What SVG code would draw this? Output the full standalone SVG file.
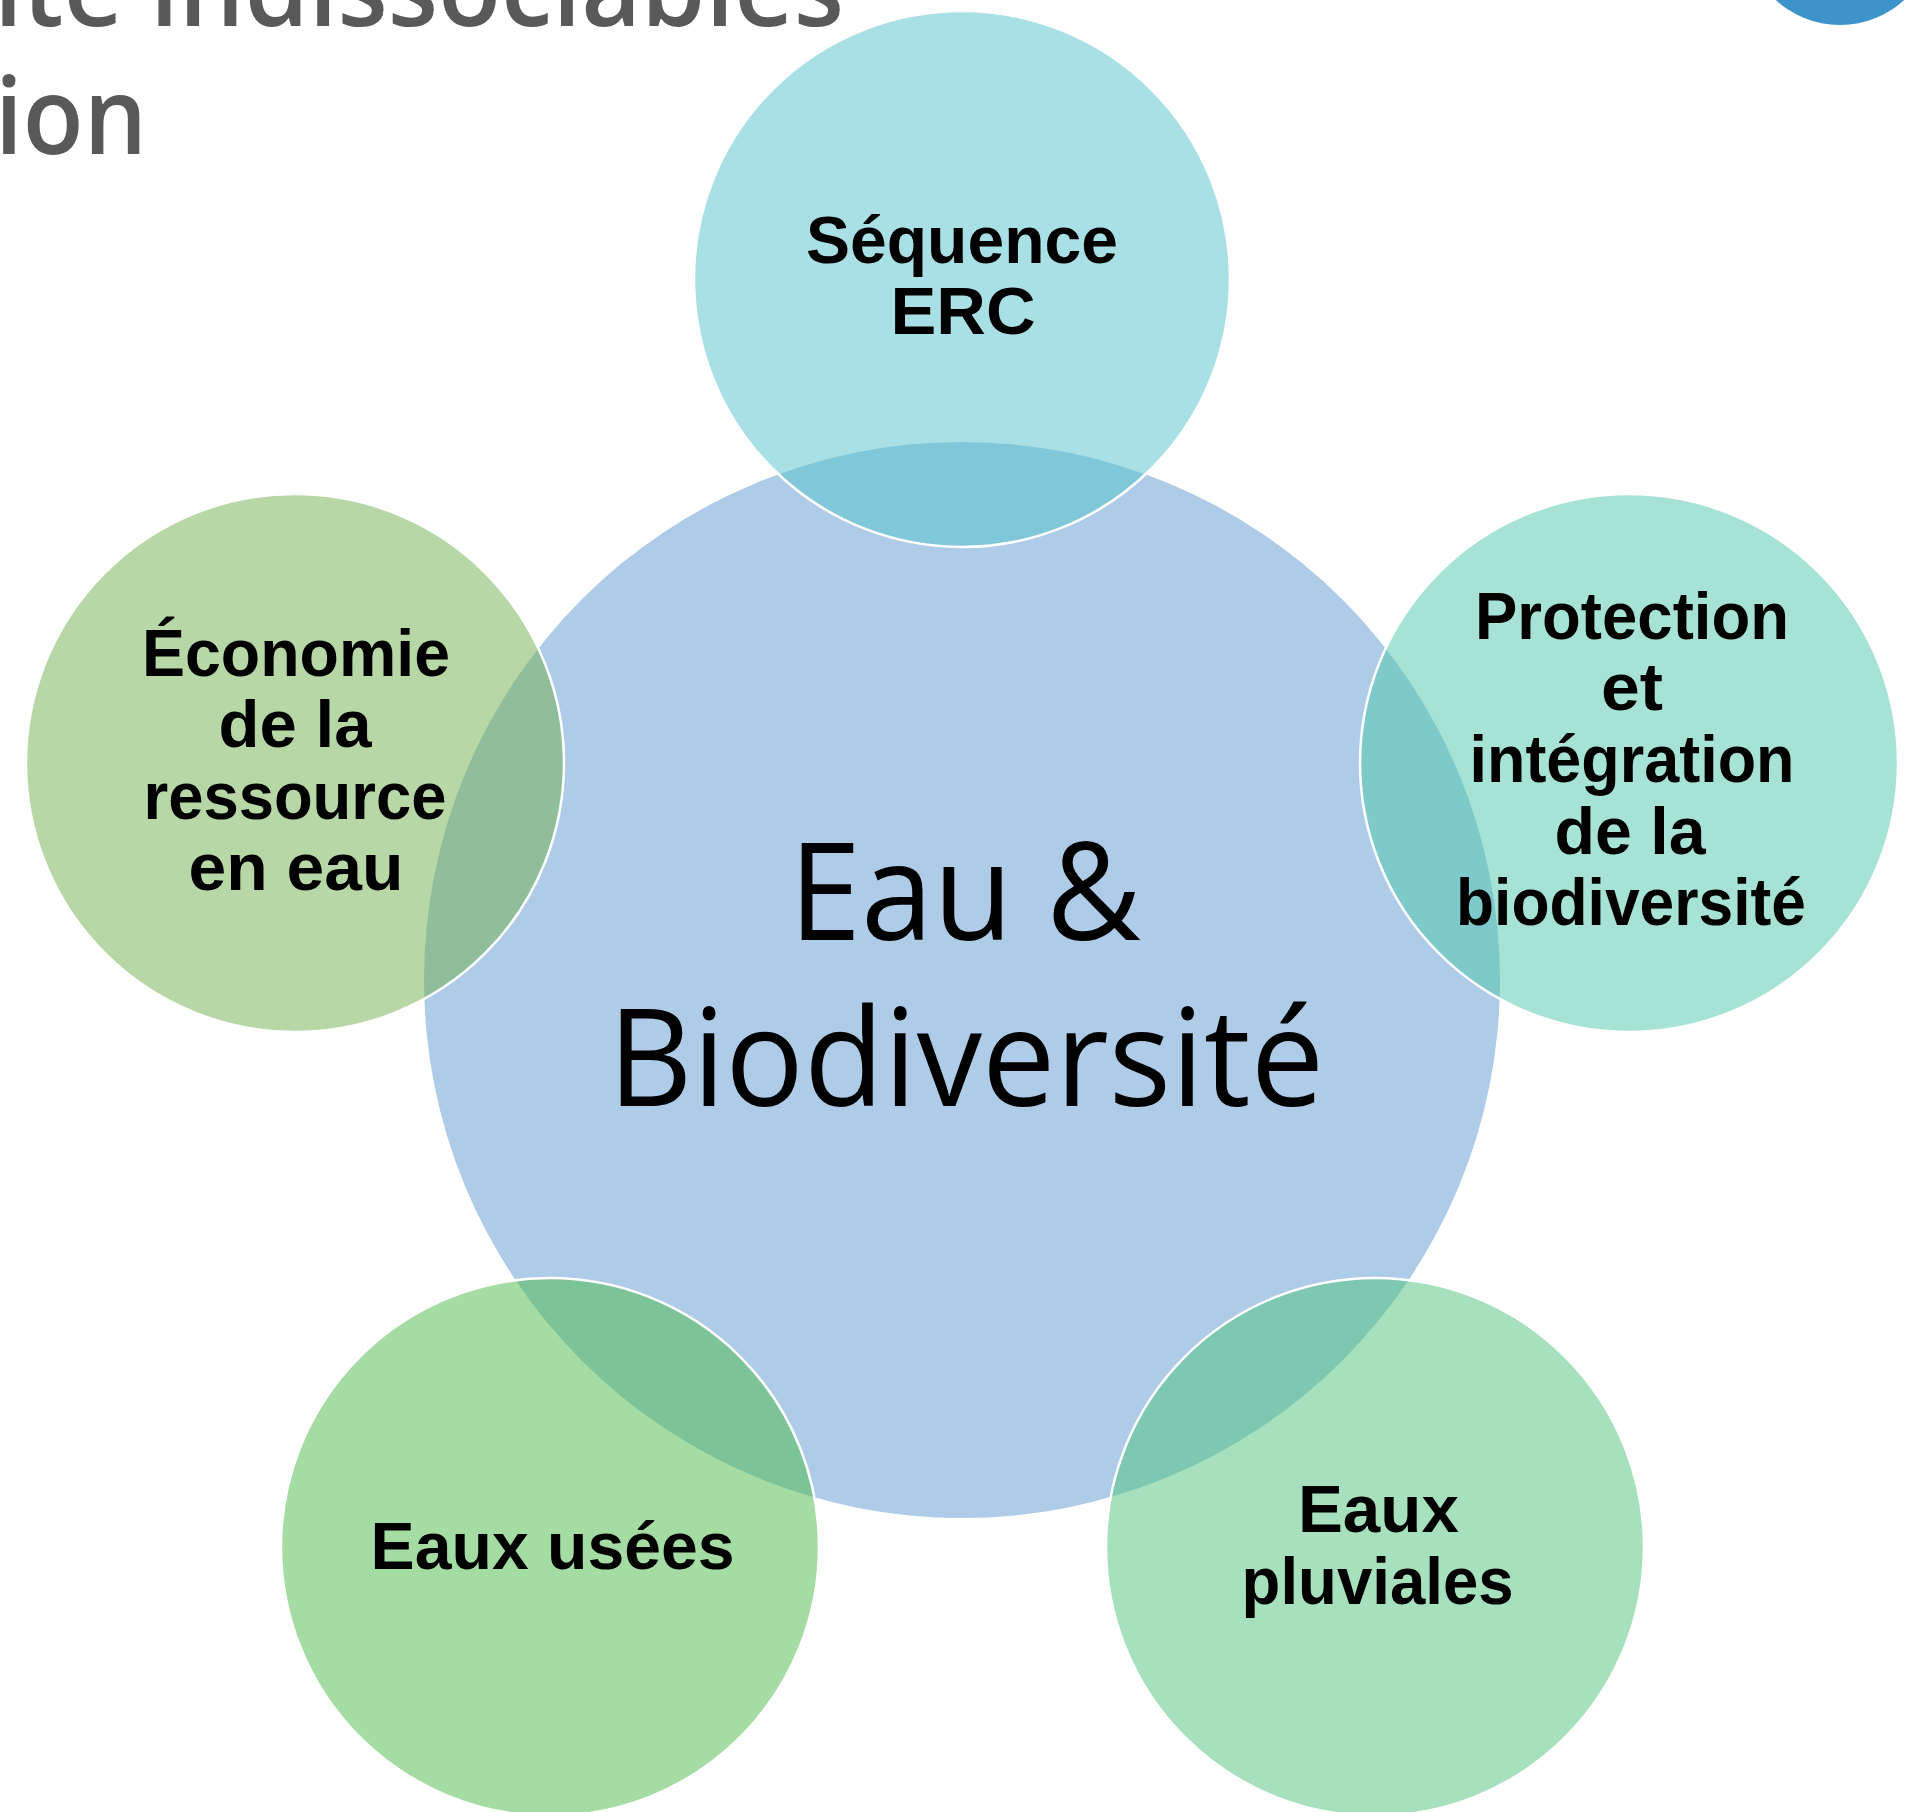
<svg xmlns="http://www.w3.org/2000/svg" width="1905" height="1812" viewBox="0 0 1905 1812">
<style>
.sat{fill-opacity:0.5;stroke:#FFFFFF;stroke-width:2.5}
.lbl{font-family:"Liberation Sans",Arial,sans-serif;font-weight:bold;font-size:67px;fill:#000000;text-anchor:middle}
.ctr{font-family:"Open Sans","Noto Sans",sans-serif;font-size:135px;fill:#000000;text-anchor:middle}
.ttl{font-family:"Open Sans","Noto Sans",sans-serif;font-weight:600;font-size:106px;fill:#595959}
</style>
<rect x="0" y="0" width="1905" height="1812" fill="#FFFFFF"/>
<g id="title">
<text class="ttl" x="-6" y="26" textLength="850" lengthAdjust="spacingAndGlyphs">ite indissociables</text>
<text class="ttl" x="-5" y="154" textLength="152" lengthAdjust="spacingAndGlyphs">ion</text>
</g>
<circle id="logo" cx="1840" cy="-70" r="95" fill="#3D94CA"/>
<g id="connectors"></g>
<g id="center">
<circle cx="962" cy="980" r="538" fill="#AECCE8"/>
<text class="ctr" x="965" y="940" textLength="352" lengthAdjust="spacingAndGlyphs">Eau &amp;</text>
<text class="ctr" x="966" y="1106" textLength="716" lengthAdjust="spacingAndGlyphs">Biodiversité</text>
</g>
<g id="node-erc">
<circle class="sat" cx="962" cy="279" r="268" fill="#53C1CB"/>
<text class="lbl" x="962" y="262.5" textLength="312" lengthAdjust="spacingAndGlyphs">Séquence</text>
<text class="lbl" x="963" y="334" textLength="145" lengthAdjust="spacingAndGlyphs">ERC</text>
</g>
<g id="node-economie">
<circle class="sat" cx="295" cy="763" r="269" fill="#71AF4D"/>
<text class="lbl" x="296" y="675.7" textLength="308" lengthAdjust="spacingAndGlyphs">Économie</text>
<text class="lbl" x="295" y="747.2" textLength="153" lengthAdjust="spacingAndGlyphs">de la</text>
<text class="lbl" x="295" y="818.7" textLength="303" lengthAdjust="spacingAndGlyphs">ressource</text>
<text class="lbl" x="296" y="890.2" textLength="215" lengthAdjust="spacingAndGlyphs">en eau</text>
</g>
<g id="node-protection">
<circle class="sat" cx="1629" cy="763" r="269" fill="#4DC7AB"/>
<text class="lbl" x="1632" y="638.9" textLength="314" lengthAdjust="spacingAndGlyphs">Protection</text>
<text class="lbl" x="1632" y="710.4" textLength="62" lengthAdjust="spacingAndGlyphs">et</text>
<text class="lbl" x="1632" y="782" textLength="325" lengthAdjust="spacingAndGlyphs">intégration</text>
<text class="lbl" x="1630" y="853.5" textLength="151" lengthAdjust="spacingAndGlyphs">de la</text>
<text class="lbl" x="1631" y="925" textLength="350" lengthAdjust="spacingAndGlyphs">biodiversité</text>
</g>
<g id="node-usees">
<circle class="sat" cx="550" cy="1547" r="269" fill="#4BB947"/>
<text class="lbl" x="552.6" y="1569" textLength="364" lengthAdjust="spacingAndGlyphs">Eaux usées</text>
</g>
<g id="node-pluviales">
<circle class="sat" cx="1375" cy="1547" r="269" fill="#4DC179"/>
<text class="lbl" x="1378.4" y="1532" textLength="161" lengthAdjust="spacingAndGlyphs">Eaux</text>
<text class="lbl" x="1377.6" y="1603.5" textLength="272" lengthAdjust="spacingAndGlyphs">pluviales</text>
</g>
</svg>
